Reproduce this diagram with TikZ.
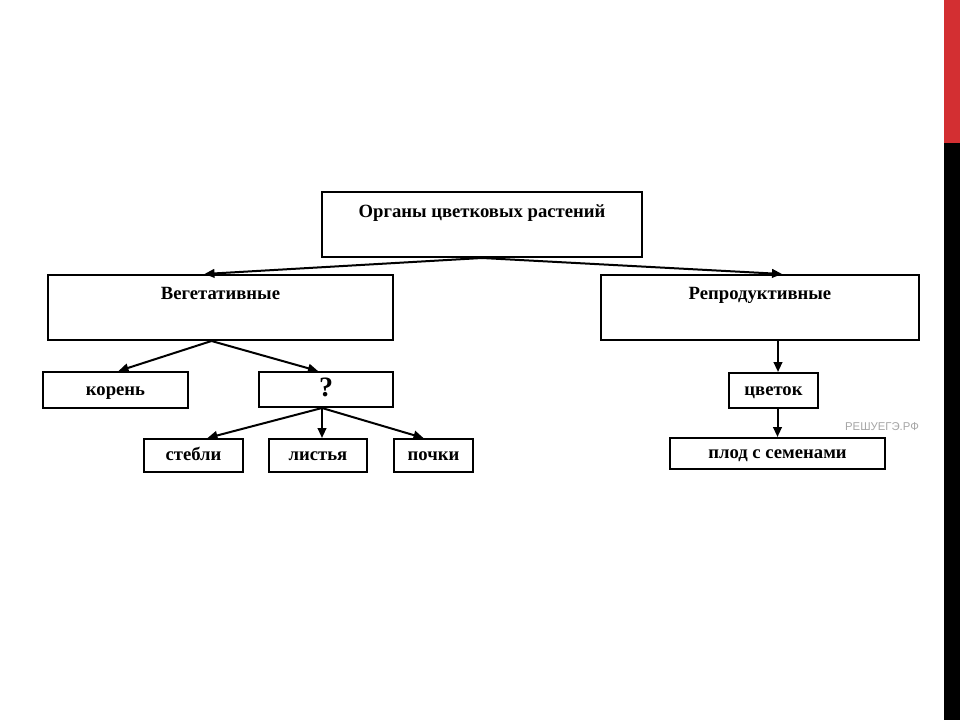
\documentclass[tikz,border=0pt]{standalone}
\usepackage{fontspec}
\setmainfont{Liberation Serif}
\setsansfont{Liberation Sans}
\usetikzlibrary{arrows.meta}
\definecolor{barred}{RGB}{211,47,50}
\begin{document}
\begin{tikzpicture}[x=0.75pt,y=-0.75pt,
  box/.style={draw=black, line width=1.5pt, rectangle, inner sep=0pt, anchor=north west,
    text height=0.75em, text depth=0pt,
    font=\bfseries\fontsize{14}{16}\selectfont},
  wh/.style 2 args={minimum width=#1*0.75pt, minimum height=#2*0.75pt},
  toplabel/.style={font=\bfseries\fontsize{14}{16}\selectfont, anchor=center,
    text height=0.5em, text depth=0pt, yshift=#1*-0.75pt},
  dx/.style={xshift=#1*0.75pt},
  arr/.style={line width=1.5pt, -{Triangle[length=7.5pt,width=6.5pt]}}]
\fill[white] (0,0) rectangle (960,720);
\useasboundingbox (0,0) rectangle (960,720);
\fill[black] (944,0) rectangle (960,720);
\fill[barred] (944,0) rectangle (960,143);

\node[box, wh={320}{65}, label={[toplabel=23]north:Органы цветковых растений}] (root) at (321,191) {};
\node[box, wh={345}{65}, label={[toplabel=22]north:Вегетативные}] (veg) at (47,274) {};
\node[box, wh={318}{65}, label={[toplabel=22]north:Репродуктивные}] (rep) at (600,274) {};

\node[box, wh={145}{36}] (root2) at (42,371) {корень};
\node[box, wh={134}{35}, font=\bfseries\fontsize{21}{24}\selectfont, text height=1.0em] (q) at (258,371) {?};

\node[box, wh={99}{33}] (st) at (143,438) {стебли};
\node[box, wh={98}{33}] (li) at (268,438) {листья};
\node[box, wh={79}{33}] (po) at (393,438) {почки};

\node[box, wh={89}{35}] (fl) at (728,372) {цветок};
\node[box, wh={215}{31}] (fr) at (669,437) {плод с семенами};

\node[font=\sffamily\fontsize{8.5}{10}\selectfont, text=black!35, inner sep=0pt] (wm) at (882,427) {РЕШУЕГЭ.РФ};

\draw[arr] (root.south) -- ([dx=-16]veg.north);
\draw[arr] (root.south) -- ([dx=22]rep.north);
\draw[arr] ([dx=-9]veg.south) -- ([dx=3]root2.north);
\draw[arr] ([dx=-9]veg.south) -- ([dx=-8]q.north);
\draw[arr] ([dx=-4]q.south) -- ([dx=14]st.north);
\draw[arr] ([dx=-4]q.south) -- ([dx=4]li.north);
\draw[arr] ([dx=-4]q.south) -- ([dx=-10]po.north);
\draw[arr] ([dx=18]rep.south) -- ([dx=4.5]fl.north);
\draw[arr] ([dx=4]fl.south) -- (fr.north);
\end{tikzpicture}
\end{document}
